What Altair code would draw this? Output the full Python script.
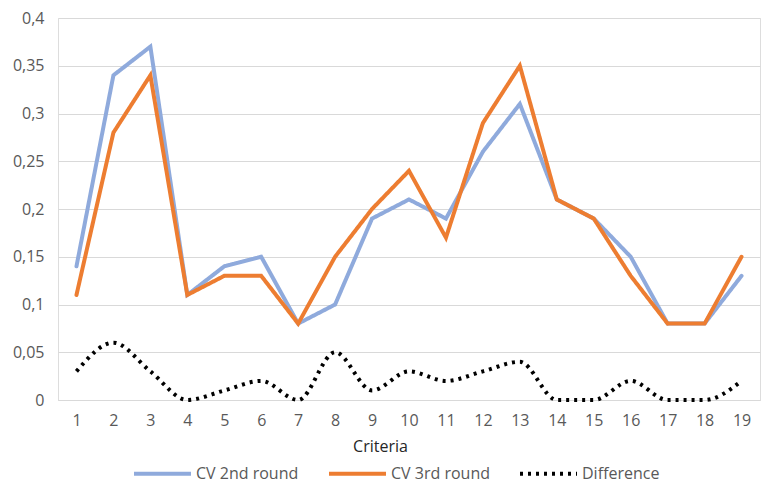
import altair as alt
import pandas as pd

criteria = list(range(1, 20))
cv2 = [0.14, 0.34, 0.37, 0.11, 0.14, 0.15, 0.08, 0.10, 0.19, 0.21, 0.19, 0.26, 0.31, 0.21, 0.19, 0.15, 0.08, 0.08, 0.13]
cv3 = [0.11, 0.28, 0.34, 0.11, 0.13, 0.13, 0.08, 0.15, 0.20, 0.24, 0.17, 0.29, 0.35, 0.21, 0.19, 0.13, 0.08, 0.08, 0.15]
diff = [0.03, 0.06, 0.03, 0.00, 0.01, 0.02, 0.00, 0.05, 0.01, 0.03, 0.02, 0.03, 0.04, 0.00, 0.00, 0.02, 0.00, 0.00, 0.02]

series_names = ["CV 2nd round", "CV 3rd round", "Difference"]

rows = []
for name, vals in zip(series_names, [cv2, cv3, diff]):
    for c, v in zip(criteria, vals):
        rows.append({"Criteria": c, "value": v, "series": name})
df = pd.DataFrame(rows)

FONT = "Open Sans"

color = alt.Color("series:N", scale=alt.Scale(domain=series_names, range=["#8FAADC", "#ED7D31", "#000000"]),
                  legend=alt.Legend(title=None, orient="none", direction="horizontal", legendX=74, legendY=425,
                                    symbolType="stroke", symbolSize=3249, symbolStrokeWidth=4,
                                    labelFontSize=16, labelFont=FONT, labelColor="#595959",
                                    columnPadding=22, labelOffset=3))
dash = alt.StrokeDash("series:N", scale=alt.Scale(domain=series_names, range=[[1, 0], [1, 0], [3, 5]]), legend=None)

x = alt.X("Criteria:O", title="Criteria",
          scale=alt.Scale(type="point", padding=0.5),
          axis=alt.Axis(labelAngle=0, ticks=False, domain=True, domainColor="#D9D9D9", grid=False,
                        labelFontSize=16, labelFont=FONT, labelColor="#595959", labelPadding=12,
                        titleFontSize=16, titleFont=FONT, titleColor="#262626", titleFontWeight="normal",
                        titlePadding=10, titleX=322, titleAnchor="middle"))
y = alt.Y("value:Q", title=None, scale=alt.Scale(domain=[0, 0.4], nice=False),
          axis=alt.Axis(values=[0, 0.05, 0.1, 0.15, 0.2, 0.25, 0.3, 0.35, 0.4], domain=False, ticks=False,
                        gridColor="#D9D9D9", gridWidth=1, labelFontSize=16, labelFont=FONT,
                        labelColor="#595959", labelPadding=14,
                        labelExpr="replace(format(datum.value, '.2~f'), '.', ',')"))

cv_lines = alt.Chart(df).transform_filter(alt.datum.series != "Difference").mark_line(
    strokeWidth=4, strokeCap="round", strokeJoin="miter").encode(x=x, y=y, color=color, strokeDash=dash)
diff_line = alt.Chart(df).transform_filter(alt.datum.series == "Difference").mark_line(
    strokeWidth=4, strokeCap="butt", interpolate="monotone").encode(x=x, y=y, color=color, strokeDash=dash)

chart = alt.layer(cv_lines, diff_line).properties(
    width=702, height=382,
    autosize=alt.AutoSizeParams(type="none"),
    padding={"left": 50, "top": 10, "right": 8, "bottom": 84},
).configure_view(stroke=None).configure(background="white")

chart.save("out.html", embed_options={"renderer": "svg", "actions": False})
